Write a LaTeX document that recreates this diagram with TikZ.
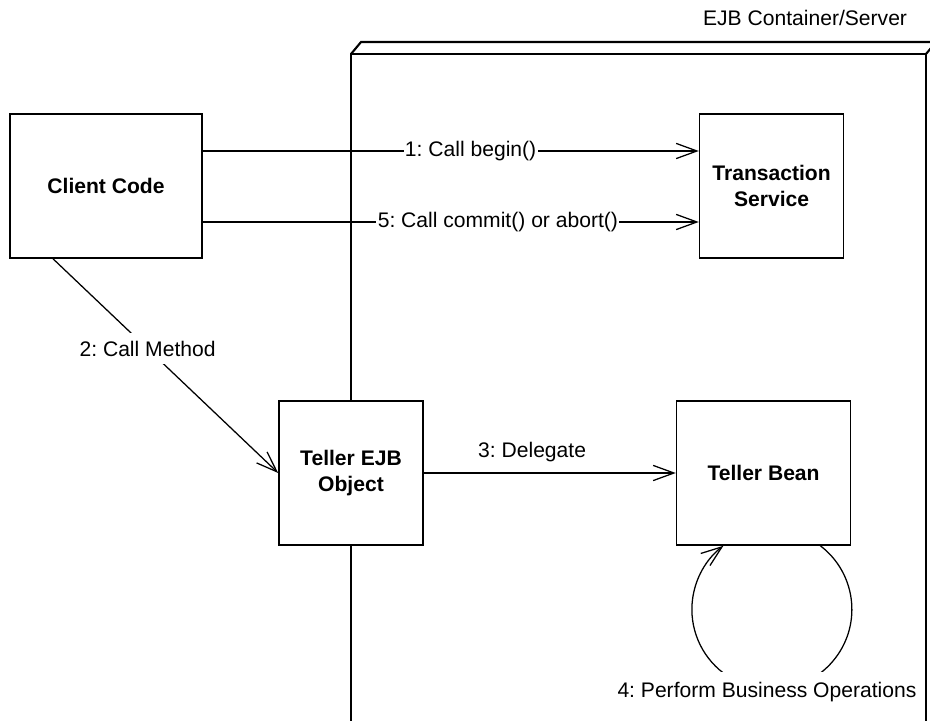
\documentclass[tikz,border=0pt]{standalone}
\usepackage{fontspec}
\setmainfont{Liberation Sans}
\usetikzlibrary{arrows.meta, positioning}
\frenchspacing

\begin{document}
\begin{tikzpicture}[font=\fontsize{15}{18}\selectfont, node distance=1cm,
    box/.style={draw, line width=1.1pt, fill=white, font=\fontsize{15}{18}\selectfont\bfseries, align=center, minimum width=3.6cm, minimum height=3.6cm, inner sep=0pt},
    lbl/.style={fill=white, inner xsep=1pt, inner ysep=0pt},
    arr/.style={-{Straight Barb[length=0.52cm, width=0.38cm]}, line width=0.9pt},
    ctr/.style={line width=1.5pt}]
    \useasboundingbox (0,0) rectangle (23.25,-18.025);
    \clip (0,0) rectangle (23.25,-18.025);
    % container
    \draw[ctr] (8.775,-19) |- (23.15,-1.35) -- (23.15,-19);
    \draw[ctr] (8.775,-1.35) -- ++(0.25,0.3) -- (23.4,-1.05) -- (23.15,-1.35);
    \node[anchor=base east] (srv) at (22.8,-0.65) {EJB Container/Server};
    % objects
    \node[box, minimum width=4.8cm] (client) at (2.65,-4.65) {Client Code};
    \node[box, right=12.4cm of client] (ts) {Transaction\\Service};
    \node[box] (tejb) at (8.775,-11.825) {Teller EJB\\Object};
    \node[box, minimum width=4.35cm, right=6.3cm of tejb] (tb) {Teller Bean};
    % messages
    \draw[arr] ([yshift=0.875cm]client.east) -- node[lbl, pos=0.54] (m1) {1: Call begin()} ([yshift=0.875cm]ts.west);
    \draw[arr] ([yshift=-0.9cm]client.east) -- node[lbl, pos=0.595] (m5) {5: Call commit() or abort()} ([yshift=-0.9cm]ts.west);
    \draw[arr] ([xshift=-1.325cm]client.south) -- node[lbl, pos=0.42, inner sep=0.2cm] (m2) {2: Call Method} (tejb.west);
    \draw[arr] (tejb.east) -- node[above=0.14cm, pos=0.43] (m3) {3: Delegate} (tb.west);
    \draw[arr] ([xshift=1.42cm]tb.south) arc[start angle=52.7, end angle=-232.7, radius=2cm];
    \node[lbl, inner ysep=0.25cm, anchor=base] (m4) at ([xshift=0.085cm, yshift=-3.795cm]tb.south) {4: Perform Business Operations};
\end{tikzpicture}
\end{document}
